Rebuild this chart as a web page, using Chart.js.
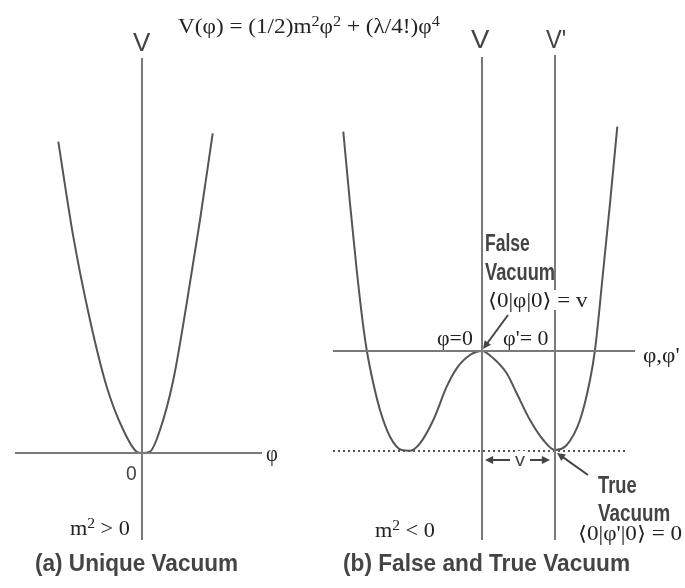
<!DOCTYPE html>
<html><head><meta charset="utf-8">
<script src="https://cdn.jsdelivr.net/npm/chart.js@4/dist/chart.umd.min.js"></script>
<style>
html,body{margin:0;padding:0;background:#fff;width:685px;height:588px;overflow:hidden}
#wrap{position:relative;width:685px;height:588px}
canvas{position:absolute;top:0}
.t{position:absolute;white-space:nowrap;line-height:1;transform-origin:0 50%}
.serif{font-family:"Liberation Serif","DejaVu Serif",serif;color:#222}
.sans{font-family:"Liberation Sans",Arial,sans-serif;color:#444}
.bold{font-weight:bold}
.bg{background:#fff}
sup{font-size:.7em;position:relative;top:-.5em;vertical-align:baseline}
</style></head><body>
<div id="wrap">
<canvas id="a" width="330" height="588" style="left:0"></canvas>
<canvas id="b" width="355" height="588" style="left:330px"></canvas>
</div>
<script>
// ---- Panel (a): m^2 > 0, single well (phi, V) ----
const phiA = [-8.37,-6.87,-5.2,-3.53,-1.87,-0.53,0,0.8,1.8,3.13,4.47,5.8,7.07];
const vA   = [31.13,21.63,13.3,6.63,2.3,0.13,0,0.13,2.3,7.3,14.97,23.3,31.97];
const axisA_phi = [-12.7, 12.0];   // horizontal phi axis extent
const axisA_V   = [-8.7, 39.5];    // vertical V axis extent

// ---- Panel (b): m^2 < 0, double well (phi, V) ----
const phiB = [-13.87,-13.2,-12.53,-11.87,-11.53,-10.87,-10.2,-9.2,-8.03,-7.2,-6.2,-4.87,-3.53,-2.53,-1.2,0,
              1.13,2.47,3.47,4.8,6.13,7.3,8.47,9.8,10.8,11.3,12.13,12.8,13.53];
const vB   = [21.93,14.77,8.1,2.43,0.1,-3.23,-5.9,-8.57,-9.9,-9.97,-9.23,-6.9,-3.57,-1.73,-0.4,0,
              -0.73,-2.23,-4.23,-6.9,-8.9,-9.9,-9.4,-6.9,-2.9,0.1,8.1,14.77,22.43];
const axisB_phi = [-14.9, 15.3];
const axisB_V   = [-18.9, 29.4];
const vPrimeAt  = 7.3;             // shifted axis phi' = phi - v
const trueVacV  = -10.0;           // level of the true vacuum (dotted)
const dottedPhi = [-14.9, 14.3];

// arrows in panel (b): [fromPhi, fromV, toPhi, toV]
const arrowsB = [
  [2.6, 3.6, 0.1, 0.2],
  [10.6, -12.4, 7.5, -10.2],
  [2.8, -10.9, 0.3, -10.9],
  [4.8, -10.9, 6.8, -10.9]
];

const pts = (xs, ys) => xs.map((x, i) => ({x, y: ys[i]}));
const curveStyle = {borderColor:'#555', borderWidth:2, pointRadius:0, showLine:true, cubicInterpolationMode:'monotone'};
const axisStyle  = {borderColor:'#7a7a7a', borderWidth:2, pointRadius:0, showLine:true, tension:0};

const arrowPlugin = {
  id:'arrows',
  afterDatasetsDraw(chart, args, opts){
    const list = opts.list || [];
    const {ctx, scales:{x, y}} = chart;
    ctx.save();
    ctx.strokeStyle = '#444'; ctx.fillStyle = '#444'; ctx.lineWidth = 2;
    list.forEach(a => {
      const x1 = x.getPixelForValue(a[0]), y1 = y.getPixelForValue(a[1]);
      const x2 = x.getPixelForValue(a[2]), y2 = y.getPixelForValue(a[3]);
      const ang = Math.atan2(y2 - y1, x2 - x1), L = 9;
      ctx.beginPath(); ctx.moveTo(x1, y1);
      ctx.lineTo(x2 - Math.cos(ang) * 5, y2 - Math.sin(ang) * 5); ctx.stroke();
      ctx.beginPath(); ctx.moveTo(x2, y2);
      ctx.lineTo(x2 - L * Math.cos(ang - 0.45), y2 - L * Math.sin(ang - 0.45));
      ctx.lineTo(x2 - L * Math.cos(ang + 0.45), y2 - L * Math.sin(ang + 0.45));
      ctx.closePath(); ctx.fill();
    });
    ctx.restore();
  }
};

function makeChart(id, datasets, xr, yr, arrows){
  return new Chart(document.getElementById(id), {
    type:'scatter',
    data:{datasets},
    options:{
      responsive:false, animation:false,
      layout:{padding:0},
      scales:{
        x:{type:'linear', min:xr[0], max:xr[1], display:false},
        y:{type:'linear', min:yr[0], max:yr[1], display:false}
      },
      plugins:{legend:{display:false}, tooltip:{enabled:false}, arrows:{list:arrows}}
    },
    plugins:[arrowPlugin]
  });
}

makeChart('a', [
  Object.assign({data:[{x:axisA_phi[0],y:0},{x:axisA_phi[1],y:0}]}, axisStyle),
  Object.assign({data:[{x:0,y:axisA_V[1]},{x:0,y:axisA_V[0]}]}, axisStyle),
  Object.assign({data:pts(phiA, vA)}, curveStyle)
], [-14.2, 18.8], [-13.5, 45.3], []);

makeChart('b', [
  Object.assign({data:[{x:axisB_phi[0],y:0},{x:axisB_phi[1],y:0}]}, axisStyle),
  Object.assign({data:[{x:0,y:axisB_V[1]},{x:0,y:axisB_V[0]}]}, axisStyle),
  Object.assign({data:[{x:vPrimeAt,y:axisB_V[1]+0.2},{x:vPrimeAt,y:axisB_V[0]}]}, axisStyle),
  Object.assign({data:[{x:dottedPhi[0],y:trueVacV},{x:dottedPhi[1],y:trueVacV}]},
     {borderColor:'#555', borderWidth:2, pointRadius:0, showLine:true, borderDash:[2,3]}),
  Object.assign({data:pts(phiB, vB)}, curveStyle)
], [-15.2, 20.3], [-23.7, 35.1], arrowsB);

// ---- text labels: [html, left, centerY, targetWidth, classes, fontSize] ----
const labels = [
  ['V(φ) = (1/2)m<sup>2</sup>φ<sup>2</sup> + (λ/4!)φ<sup>4</sup>', 178, 26, 262, 'serif', 21],
  ['V', 133, 42, 17, 'sans', 26],
  ['V', 471, 39, 18, 'sans', 26],
  ['V\'', 546, 39, 20, 'sans', 26],
  ['φ', 266, 453, 12, 'serif', 24],
  ['0', 126, 472, 11, 'sans', 21],
  ['m<sup>2</sup> &gt; 0', 70, 528, 60, 'serif', 20],
  ['(a) Unique Vacuum', 35, 563, 203, 'sans bold', 24],
  ['(b) False and True Vacuum', 343, 563, 287, 'sans bold', 24],
  ['False', 485, 243, 45, 'sans bold', 23],
  ['Vacuum', 485, 272, 70, 'sans bold', 23],
  ['⟨0|φ|0⟩ = v', 488, 300, 99, 'serif bg', 20],
  ['φ=0', 437, 338, 36, 'serif', 20],
  ['φ\'= 0', 503, 338, 45, 'serif', 20],
  ['φ,φ\'', 643, 355, 37, 'serif', 20],
  ['v', 515, 460, 10, 'sans bg', 18],
  ['True', 598, 485, 39, 'sans bold', 23],
  ['Vacuum', 598, 513, 72, 'sans bold', 23],
  ['⟨0|φ\'|0⟩ = 0', 578, 533, 104, 'serif', 20],
  ['m<sup>2</sup> &lt; 0', 375, 530, 60, 'serif', 20]
];
const wrap = document.getElementById('wrap');
labels.forEach(([html, x, y, w, cls, fs]) => {
  const d = document.createElement('div');
  d.className = 't ' + cls;
  d.innerHTML = html;
  d.style.fontSize = fs + 'px';
  d.style.left = x + 'px';
  d.style.top = y + 'px';
  wrap.appendChild(d);
  const s = w / d.offsetWidth;
  d.style.transform = 'translateY(-50%) scaleX(' + s.toFixed(3) + ')';
});
</script>
</body></html>
